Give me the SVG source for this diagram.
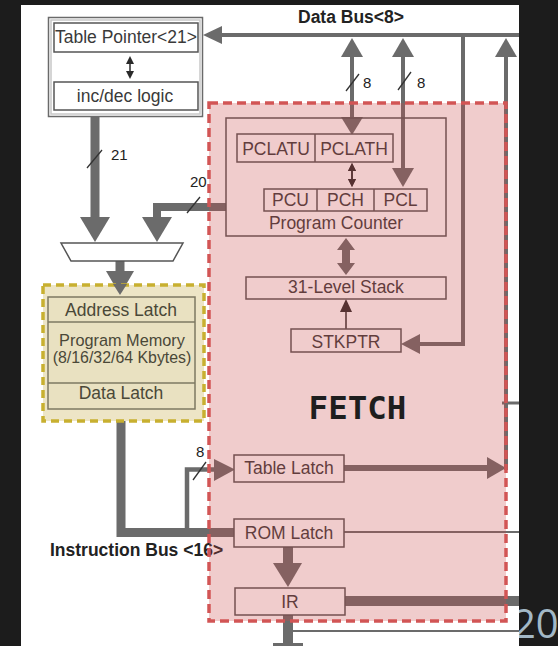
<svg xmlns="http://www.w3.org/2000/svg" width="558" height="646" viewBox="0 0 558 646">
<style>
.bus{stroke:#6b6b6b;fill:none;stroke-linejoin:miter;stroke-linecap:butt}
.head{fill:#6b6b6b}
.dk{fill:#2a2a2a}
.thin{stroke:#2a2a2a;stroke-width:1.5;fill:none}
.slash{stroke:#333;stroke-width:1.3}
.box{fill:#fff;stroke:#555;stroke-width:1.5}
.t{font-family:"Liberation Sans",Arial,sans-serif;font-size:17.5px;fill:#3a3a3a;text-anchor:middle}
.lbl{font-family:"Liberation Sans",Arial,sans-serif;font-size:15px;fill:#222}
.bold{font-family:"Liberation Sans",Arial,sans-serif;font-size:17.5px;font-weight:bold;fill:#222}
.pm{fill:#e9e1c1;stroke:#7d7862;stroke-width:1.5}
.pmt{font-family:"Liberation Sans",Arial,sans-serif;fill:#4a4838;text-anchor:middle}
</style>
<rect x="0" y="0" width="558" height="646" fill="#1c1c1c"/>
<text x="513" y="638" font-family="'Open Sans',sans-serif" font-size="40" fill="#a3b8c6">20</text>
<rect x="21" y="5" width="498" height="641" fill="#ffffff"/>

<g id="connectors">
  <!-- data bus -->
  <line class="bus" x1="215" y1="35" x2="519" y2="35" stroke-width="4"/>
  <polygon class="head" points="203,35 222,26 222,44"/>
  <!-- PCLATH link -->
  <line class="bus" x1="352" y1="50" x2="352" y2="122" stroke-width="4"/>
  <polygon class="head" points="352,38 363,57 341,57"/>
  <polygon class="head" points="352,135 363,117 341,117"/>
  <line class="slash" x1="346" y1="91" x2="359" y2="74"/>
  <!-- PCL link -->
  <line class="bus" x1="403" y1="50" x2="403" y2="172" stroke-width="4"/>
  <polygon class="head" points="403,38 414,57 392,57"/>
  <polygon class="head" points="403,187 414,168 392,168"/>
  <line class="slash" x1="398" y1="90" x2="411" y2="72"/>
  <!-- STKPTR feed -->
  <path class="bus" d="M463,35 V344 H418" stroke-width="4"/>
  <polygon class="head" points="401,344 420,334 420,354"/>
  <!-- right riser from table latch -->
  <line class="bus" x1="506" y1="50" x2="506" y2="470" stroke-width="4"/>
  <polygon class="head" points="506,38 517,57 495,57"/>
  <line class="bus" x1="502" y1="403" x2="519" y2="403" stroke-width="3"/>
  <!-- table pointer to mux -->
  <line class="bus" x1="95" y1="116" x2="95" y2="219" stroke-width="9"/>
  <polygon class="head" points="95,242 110,217 80,217"/>
  <line class="slash" x1="87" y1="168" x2="102" y2="150"/>
  <!-- PC to mux (20) -->
  <path class="bus" d="M226,207 H157 V219" stroke-width="8"/>
  <polygon class="head" points="157,242 172,217 142,217"/>
  <line class="slash" x1="187" y1="213" x2="200" y2="197"/>
  <!-- mux to program memory -->
  <line class="bus" x1="120" y1="260" x2="120" y2="273" stroke-width="9"/>
  <polygon class="head" points="120,295 134,271 106,271"/>
  <!-- instruction bus -->
  <path class="bus" d="M121,409 V532.5 H235" stroke-width="9"/>
  <path class="bus" d="M187,533 V469.5 H217" stroke-width="4.5"/>
  <polygon class="head" points="235,469.5 214,459 214,481"/>
  <line class="slash" x1="193" y1="480" x2="206" y2="462"/>
  <!-- table latch out -->
  <line class="bus" x1="344" y1="468" x2="490" y2="468" stroke-width="6"/>
  <polygon class="head" points="506,468 487,457 487,479"/>
  <!-- rom latch out -->
  <line class="bus" x1="344" y1="532" x2="519" y2="532" stroke-width="2"/>
  <!-- rom latch to IR -->
  <line class="bus" x1="288" y1="547" x2="288" y2="565" stroke-width="10"/>
  <polygon class="head" points="288,587 302,563 273,563"/>
  <!-- IR out -->
  <line class="bus" x1="345" y1="601" x2="519" y2="601" stroke-width="10"/>
  <line class="bus" x1="288" y1="615" x2="288" y2="646" stroke-width="10"/>
  <line class="bus" x1="290" y1="631" x2="519" y2="631" stroke-width="2"/>
  <rect x="273" y="643" width="30" height="3" fill="#6b6b6b"/>
  <!-- PC <-> stack -->
  <polygon class="head" points="346,238 355,250 350,250 350,263 355,263 346,275 337,263 342,263 342,250 337,250"/>
  <!-- PCLATH <-> PCH -->
  <line class="thin" x1="352" y1="168" x2="352" y2="182"/>
  <polygon class="dk" points="352,163 356,171 348,171"/>
  <polygon class="dk" points="352,187 356,179 348,179"/>
  <!-- table pointer <-> inc/dec -->
  <line class="thin" x1="130" y1="61" x2="130" y2="74"/>
  <polygon class="dk" points="130,56 134,64 126,64"/>
  <polygon class="dk" points="130,79 134,71 126,71"/>
  <!-- STKPTR to stack -->
  <line class="thin" x1="346" y1="329" x2="346" y2="310"/>
  <polygon class="dk" points="346,299 352,312 340,312"/>
</g>

<g id="table-pointer">
  <rect x="48.5" y="17.5" width="154" height="99" fill="#fff" stroke="#6a6a6a" stroke-width="1.5"/>
  <rect x="51" y="20" width="149" height="94" fill="none" stroke="#c8c8c8" stroke-width="1.5"/>
  <rect class="box" x="54" y="23" width="144" height="29"/>
  <text class="t" x="126" y="43" font-size="17">Table Pointer&lt;21&gt;</text>
  <rect class="box" x="54" y="82" width="144" height="28"/>
  <text class="t" x="125" y="102">inc/dec logic</text>
</g>
<!-- re-draw the small arrow over table pointer box -->
<g id="tp-arrow">
  <line class="thin" x1="130" y1="61" x2="130" y2="74"/>
  <polygon class="dk" points="130,56 134,64 126,64"/>
  <polygon class="dk" points="130,79 134,71 126,71"/>
</g>

<g id="mux">
  <polygon points="61,243 183,243 173,261 71,261" fill="#fff" stroke="#555" stroke-width="1.5"/>
</g>

<g id="program-memory">
  <rect x="43" y="285" width="161" height="136" fill="#ede5c6" stroke="#c8b030" stroke-width="3.5" stroke-dasharray="8 5"/>
  <rect class="pm" x="48" y="297" width="147" height="112"/>
  <line x1="48" y1="322" x2="195" y2="322" stroke="#7d7862" stroke-width="1.5"/>
  <line x1="48" y1="383" x2="195" y2="383" stroke="#7d7862" stroke-width="1.5"/>
  <text class="pmt" x="121" y="316" font-size="17.5">Address Latch</text>
  <text class="pmt" x="122" y="346" font-size="16.3">Program Memory</text>
  <text class="pmt" x="122" y="363" font-size="15.9">(8/16/32/64 Kbytes)</text>
  <text class="pmt" x="121" y="399" font-size="17.5">Data Latch</text>
  <polygon class="head" points="120,295 127,284 113,284"/>
</g>

<g id="program-counter">
  <rect x="226" y="118" width="220" height="118" fill="none" stroke="#555" stroke-width="1.5"/>
  <rect class="box" x="237" y="134" width="156" height="28"/>
  <line x1="315" y1="134" x2="315" y2="162" stroke="#555" stroke-width="1.5"/>
  <text class="t" x="276" y="155" font-size="16.8">PCLATU</text>
  <text class="t" x="354" y="155" font-size="17">PCLATH</text>
  <rect class="box" x="264" y="189" width="163" height="22"/>
  <line x1="317" y1="189" x2="317" y2="211" stroke="#555" stroke-width="1.5"/>
  <line x1="374" y1="189" x2="374" y2="211" stroke="#555" stroke-width="1.5"/>
  <text class="t" x="290.5" y="206">PCU</text>
  <text class="t" x="345.5" y="206">PCH</text>
  <text class="t" x="400.5" y="206">PCL</text>
  <text class="t" x="336" y="229">Program Counter</text>
  <line class="thin" x1="352" y1="168" x2="352" y2="182"/>
  <polygon class="dk" points="352,163 356,171 348,171"/>
  <polygon class="dk" points="352,187 356,179 348,179"/>
</g>

<g id="stack">
  <rect class="box" x="246" y="277" width="200" height="22"/>
  <text class="t" x="346" y="293">31-Level Stack</text>
</g>
<g id="stkptr">
  <rect class="box" x="291" y="329" width="110" height="23"/>
  <text class="t" x="346" y="347.5">STKPTR</text>
</g>
<g id="table-latch">
  <rect class="box" x="234" y="455" width="110" height="27"/>
  <text class="t" x="289" y="474">Table Latch</text>
</g>
<g id="rom-latch">
  <rect class="box" x="234" y="519" width="110" height="28"/>
  <text class="t" x="289" y="539">ROM Latch</text>
</g>
<g id="ir">
  <rect class="box" x="235" y="588" width="110" height="27"/>
  <text class="t" x="290" y="608">IR</text>
</g>

<g id="labels">
  <text class="bold" x="298" y="23">Data Bus&lt;8&gt;</text>
  <text class="lbl" x="363" y="88">8</text>
  <text class="lbl" x="417" y="88">8</text>
  <text class="lbl" x="111" y="160">21</text>
  <text class="lbl" x="190" y="187">20</text>
  <text class="lbl" x="196" y="457">8</text>
  <text class="bold" x="50" y="556">Instruction Bus &lt;16&gt;</text>
</g>

<g id="fetch">
  <rect x="209" y="103" width="297" height="518" fill="#c94949" fill-opacity="0.28"/>
  <rect x="209" y="103" width="297" height="518" fill="none" stroke="#d25555" stroke-width="3.5" stroke-dasharray="9 5"/>
  <text x="357.5" y="419" font-family="'DejaVu Sans Mono',monospace" font-weight="bold" font-size="32.5" fill="#1e1e1e" text-anchor="middle">FETCH</text>
</g>
</svg>
